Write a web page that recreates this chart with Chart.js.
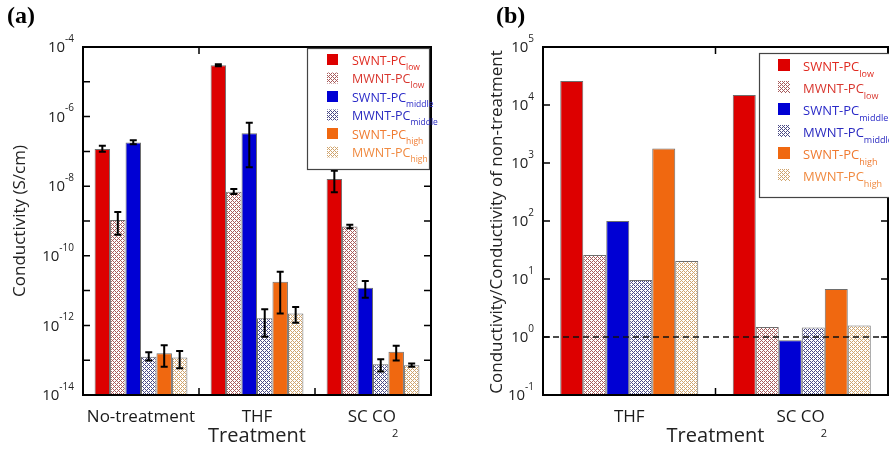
<!DOCTYPE html>
<html><head><meta charset="utf-8">
<script src="https://cdn.jsdelivr.net/npm/chart.js@4"></script>
<style>
html,body{margin:0;padding:0;background:#fff;}
#wrap{position:relative;width:889px;height:455px;overflow:hidden;background:#fff;}
canvas{position:absolute;top:0;}
</style></head><body>
<div id="wrap">
<canvas id="ca" width="445" height="455" style="left:0px"></canvas>
<canvas id="cb" width="444" height="455" style="left:445px"></canvas>
</div>
<script>
// ---------- data (panel a) ----------
const categoriesA = ['No-treatment', 'THF', 'SC CO₂'];
const seriesNames = ['SWNT-PC_low','MWNT-PC_low','SWNT-PC_middle','MWNT-PC_middle','SWNT-PC_high','MWNT-PC_high'];
const swntLowA  = [1.17e-7, 3.0e-5, 1.6e-8];
const mwntLowA  = [1.07e-9, 6.9e-9, 6.9e-10];
const swntMidA  = [1.8e-7, 3.3e-7, 1.2e-11];
const mwntMidA  = [1.26e-13, 1.6e-12, 7.6e-14];
const swntHighA = [1.58e-13, 1.8e-11, 1.74e-13];
const mwntHighA = [1.2e-13, 2.2e-12, 7.2e-14];
// error bars [low, high]
const swntLowErrA  = [[9.8e-8,1.45e-7],[2.8e-5,3.2e-5],[6.7e-9,2.8e-8]];
const mwntLowErrA  = [[4.0e-10,1.8e-9],[6.0e-9,8.3e-9],[6.2e-10,7.8e-10]];
const swntMidErrA  = [[1.6e-7,2.1e-7],[3.5e-8,6.7e-7],[6.2e-12,1.9e-11]];
const mwntMidErrA  = [[9.8e-14,1.7e-13],[4.7e-13,2.9e-12],[4.7e-14,1.07e-13]];
const swntHighErrA = [[6.5e-14,2.7e-13],[2.2e-12,3.5e-11],[9.8e-14,2.6e-13]];
const mwntHighErrA = [[5.9e-14,1.85e-13],[1.2e-12,3.4e-12],[6.5e-14,8.1e-14]];
const tickExpA = [-14,-13,-12,-11,-10,-9,-8,-7,-6,-5,-4];
const labelExpA = [-14,-12,-10,-8,-6,-4];
// ---------- data (panel b) ----------
const categoriesB = ['THF', 'SC CO₂'];
const swntLowB  = [2.6e4, 1.48e4];
const mwntLowB  = [26, 1.49];
const swntMidB  = [100, 0.88];
const mwntMidB  = [9.6, 1.46];
const swntHighB = [1780, 6.7];
const mwntHighB = [20.4, 1.58];
const referenceLineB = 1;
const tickExpB = [-1,0,1,2,3,4,5];
const labelExpB = [-1,0,1,2,3,4,5];

// ---------- styles ----------
const FONT = '"Open Sans","DejaVu Sans",sans-serif';
function makePattern(color){
  const c=document.createElement('canvas'); c.width=4; c.height=4;
  const x=c.getContext('2d'); x.fillStyle='#fff'; x.fillRect(0,0,4,4); x.fillStyle=color;
  for(let i=0;i<4;i++)for(let j=0;j<4;j++){ if((i+j)%4===0||(i-j+4)%4===0) x.fillRect(i,j,1,1); }
  return document.createElement('canvas').getContext('2d').createPattern(c,'repeat');
}
const fills = ['#dd0000', makePattern('#a85a5a'), '#0000d4', makePattern('#4a4a86'), '#f06810', makePattern('#d0a46c')];
const legendTextColors = ['#e02a20','#d8362e','#2a2ac8','#2a2ac0','#f07a30','#f08a40'];

function datasets(vals){
  return vals.map((d,k)=>({label:seriesNames[k], data:d, backgroundColor:fills[k], borderColor:'#6e6e6e', borderWidth:1, categoryPercentage:0.8, barPercentage:1.0}));
}

// draws main text followed by a lowered subscript; anchor p = junction point
function drawSub(ctx, main, sub, x, y, mSize, sSize, dy, color, align, dx){
  dx = dx||0;
  ctx.fillStyle=color; ctx.textBaseline='alphabetic';
  ctx.font = mSize+'px '+FONT; const wm=ctx.measureText(main).width;
  ctx.font = sSize+'px '+FONT; const ws=sub?ctx.measureText(sub).width:0;
  let p = x + wm; if(align==='center') p = x + (wm - ws - dx)/2;
  ctx.font = mSize+'px '+FONT; ctx.textAlign='right'; ctx.fillText(main, p, y);
  if(sub){ ctx.font = sSize+'px '+FONT; ctx.textAlign='left'; ctx.fillText(sub, p+dx, y+dy); }
}

function decor(cfg){
  return {id:'decor'+cfg.id, afterDraw(chart){
    const ctx=chart.ctx, a=chart.chartArea, ys=chart.scales.y, xs=chart.scales.x;
    ctx.save();
    // reference dashed line
    if(cfg.refLine!==undefined){
      const yy=ys.getPixelForValue(cfg.refLine);
      ctx.strokeStyle='#111'; ctx.lineWidth=1.4; ctx.setLineDash([6,4]);
      ctx.beginPath(); ctx.moveTo(a.left,yy); ctx.lineTo(a.right,yy); ctx.stroke(); ctx.setLineDash([]);
    }
    // frame
    ctx.strokeStyle='#000'; ctx.lineWidth=2;
    ctx.strokeRect(a.left, a.top, a.right-a.left, a.bottom-a.top);
    // y ticks
    ctx.lineWidth=1.5;
    cfg.tickExp.forEach(e=>{ const yy=ys.getPixelForValue(Math.pow(10,e));
      ctx.beginPath(); ctx.moveTo(a.left,yy); ctx.lineTo(a.left+7,yy); ctx.moveTo(a.right,yy); ctx.lineTo(a.right-7,yy); ctx.stroke(); });
    // x boundary ticks
    const n=cfg.cats.length;
    for(let i=1;i<n;i++){ const xx=(xs.getPixelForValue(i-1)+xs.getPixelForValue(i))/2;
      ctx.beginPath(); ctx.moveTo(xx,a.top); ctx.lineTo(xx,a.top+7); ctx.moveTo(xx,a.bottom); ctx.lineTo(xx,a.bottom-7); ctx.stroke(); }
    // y tick labels 10^e
    cfg.labelExp.forEach(e=>{ const yy=ys.getPixelForValue(Math.pow(10,e));
      ctx.textBaseline='middle'; ctx.fillStyle='#222';
      ctx.font='10px '+FONT; const es=String(e); const we=ctx.measureText(es).width;
      ctx.textAlign='left'; ctx.fillText(es, cfg.labelRight-we, yy-8);
      ctx.font='15px '+FONT; ctx.textAlign='right'; ctx.fillText('10', cfg.labelRight-we, yy+1); });
    // x category labels
    cfg.cats.forEach((c,i)=>{ const xx=xs.getPixelForValue(i);
      if(c.indexOf('₂')>=0){ drawSub(ctx, c.replace('₂',''), '2', xx, a.bottom+27, 17, 11, 15, '#1a1a1a','center', -4); }
      else drawSub(ctx, c, '', xx, a.bottom+27, 17, 11, 0, '#1a1a1a','center'); });
    // x title
    ctx.fillStyle='#222'; ctx.font='20px '+FONT; ctx.textAlign='center'; ctx.textBaseline='alphabetic';
    ctx.fillText(cfg.xTitle, (a.left+a.right)/2, 442);
    // y title
    ctx.save(); ctx.translate(cfg.yTitleX, cfg.yTitleY); ctx.rotate(-Math.PI/2);
    ctx.font=cfg.yTitleSize+'px '+FONT; ctx.textAlign='center'; ctx.textBaseline='middle'; ctx.fillStyle='#222';
    ctx.fillText(cfg.yTitle,0,0); ctx.restore();
    // panel label
    ctx.font='bold 24px "Liberation Serif","Times New Roman",serif'; ctx.fillStyle='#000'; ctx.textAlign='left'; ctx.textBaseline='top';
    ctx.fillText(cfg.panel, cfg.panelX, 5);
    // legend
    const L=cfg.legend;
    ctx.fillStyle='#fff'; ctx.fillRect(L.x0,L.y0,L.x1-L.x0,L.y1-L.y0);
    ctx.strokeStyle='#444'; ctx.lineWidth=1.2; ctx.strokeRect(L.x0+0.5,L.y0+0.5,L.x1-L.x0,L.y1-L.y0);
    seriesNames.forEach((nm,k)=>{ const cy=L.rows[k];
      ctx.fillStyle=fills[k]; ctx.fillRect(L.mx, cy-L.ms/2, L.ms, L.ms);
      const parts=nm.split('_');
      drawSub(ctx, parts[0], parts[1], L.tx, cy+L.base, L.fs, L.ss, L.sdy, legendTextColors[k], 'left'); });
    ctx.restore();
  }};
}

const errorsA = [swntLowErrA, mwntLowErrA, swntMidErrA, mwntMidErrA, swntHighErrA, mwntHighErrA];
const errPlugin = {id:'err', afterDatasetsDraw(chart){
  const ctx=chart.ctx, ys=chart.scales.y; ctx.save(); ctx.strokeStyle='#000'; ctx.lineWidth=2;
  errorsA.forEach((arr,k)=>{ const meta=chart.getDatasetMeta(k);
    arr.forEach((e,i)=>{ const x=meta.data[i].x, y1=ys.getPixelForValue(e[0]), y2=ys.getPixelForValue(e[1]);
      ctx.beginPath(); ctx.moveTo(x,y1); ctx.lineTo(x,y2);
      ctx.moveTo(x-3.5,y1); ctx.lineTo(x+3.5,y1); ctx.moveTo(x-3.5,y2); ctx.lineTo(x+3.5,y2); ctx.stroke(); }); });
  ctx.restore(); }};

function baseOptions(minV,maxV,yWidth,padRight){
  return {
    responsive:false, animation:false, devicePixelRatio:1,
    layout:{padding:{top:47,right:padRight,left:0,bottom:0}},
    plugins:{legend:{display:false}, tooltip:{enabled:false}},
    scales:{
      x:{grid:{display:false}, border:{display:false}, ticks:{display:false}, afterFit:s=>{s.height=60;}},
      y:{type:'logarithmic', min:minV, max:maxV, grid:{display:false}, border:{display:false}, ticks:{display:false}, afterFit:s=>{s.width=yWidth;}}
    }
  };
}

new Chart(document.getElementById('ca'), {
  type:'bar',
  data:{labels:categoriesA, datasets:datasets([swntLowA,mwntLowA,swntMidA,mwntMidA,swntHighA,mwntHighA])},
  options:baseOptions(1e-14,1e-4,83,14),
  plugins:[errPlugin, decor({id:'a', cats:categoriesA, tickExp:tickExpA, labelExp:labelExpA, labelRight:74,
    xTitle:'Treatment', yTitle:'Conductivity (S/cm)', yTitleX:20, yTitleY:221, yTitleSize:17, panel:'(a)', panelX:7,
    legend:{x0:307,y0:48,x1:429,y1:169, rows:[59.5,78,96.5,115,133.5,152], mx:327, ms:11, tx:352, base:5, fs:12.5, ss:8.5, sdy:5}})]
});

new Chart(document.getElementById('cb'), {
  type:'bar',
  data:{labels:categoriesB, datasets:datasets([swntLowB,mwntLowB,swntMidB,mwntMidB,swntHighB,mwntHighB])},
  options:baseOptions(0.1,1e5,98,1),
  plugins:[decor({id:'b', cats:categoriesB, tickExp:tickExpB, labelExp:labelExpB, labelRight:89, refLine:referenceLineB,
    xTitle:'Treatment', yTitle:'Conductivity/Conductivity of non-treatment', yTitleX:52, yTitleY:222, yTitleSize:17, panel:'(b)', panelX:51,
    legend:{x0:314,y0:53,x1:450,y1:197, rows:[65,87,109,131,153,175], mx:333, ms:12, tx:358, base:6, fs:13, ss:9, sdy:6}})]
});
</script>
</body></html>
